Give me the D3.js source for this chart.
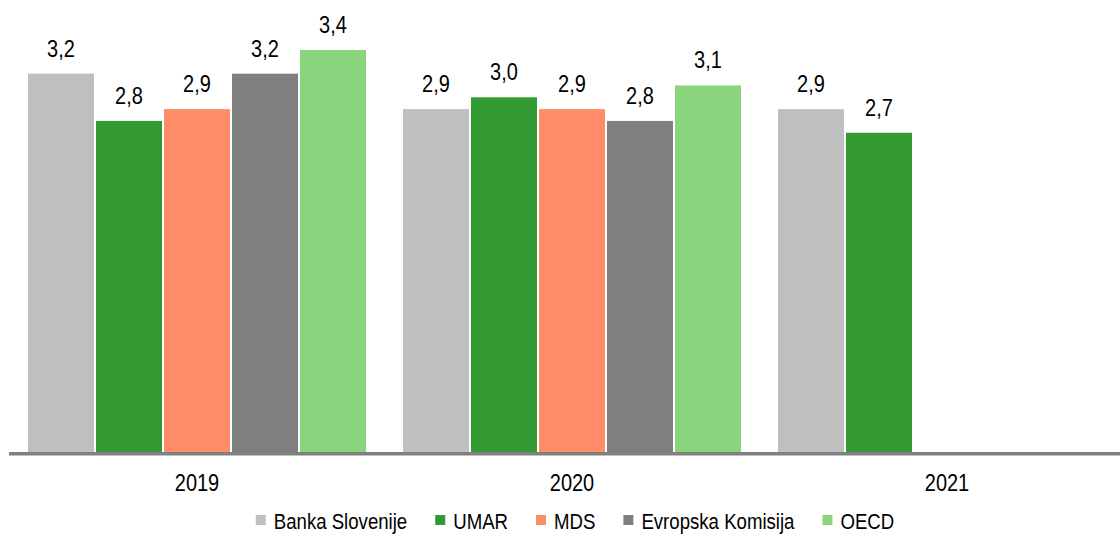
<!DOCTYPE html>
<html>
<head>
<meta charset="utf-8">
<script src="https://cdn.jsdelivr.net/npm/d3@7"></script>
<style>
  html, body { margin: 0; padding: 0; background: #fff; }
  svg { display: block; }
  text { font-family: "Liberation Sans", Arial, sans-serif; fill: #000; }
</style>
</head>
<body>
<script>
const years = ["2019", "2020", "2021"];
const seriesNames = ["Banka Slovenije", "UMAR", "MDS", "Evropska Komisija", "OECD"];
const bankaSlovenije = [3.2, 2.9, 2.9];
const umar = [2.8, 3.0, 2.7];
const mds = [2.9, 2.9, null];
const evropskaKomisija = [3.2, 2.8, null];
const oecd = [3.4, 3.1, null];
const colors = ["#BFBFBF", "#339933", "#FF8C69", "#7F7F7F", "#89D47D"];

const seriesValues = [bankaSlovenije, umar, mds, evropskaKomisija, oecd];

const W = 1120, H = 534;
const svg = d3.select("body").append("svg").attr("width", W).attr("height", H);

const x0 = d3.scaleBand().domain(years).range([9.5, 1134.5]).padding(0);
const x1 = d3.scaleBand().domain(seriesNames).range([18.5, 356.5]).paddingInner(2 / 68).paddingOuter(0);
const y = d3.scaleLinear().domain([0, 3.4]).range([452, 50]);

const fmt = v => d3.format(".1f")(v).replace(".", ",");
const SX = 0.833;
const LSX = 0.81;

const data = [];
years.forEach((yr, i) => {
  seriesNames.forEach((s, j) => {
    const v = seriesValues[j][i];
    if (v != null) data.push({ yr, s, v, color: colors[j] });
  });
});

const g = svg.append("g");
g.selectAll("rect.bar").data(data).enter().append("rect")
  .attr("class", "bar")
  .attr("x", d => x0(d.yr) + x1(d.s))
  .attr("y", d => y(d.v))
  .attr("width", x1.bandwidth())
  .attr("height", d => y(0) - y(d.v))
  .attr("fill", d => d.color);

g.selectAll("g.lbl").data(data).enter().append("g")
  .attr("class", "lbl")
  .attr("transform", d => `translate(${x0(d.yr) + x1(d.s) + x1.bandwidth() / 2},${y(d.v) - 17}) scale(${SX},1)`)
  .append("text")
  .attr("text-anchor", "middle")
  .attr("font-size", 24)
  .text(d => fmt(d.v));

// axis line
svg.append("line")
  .attr("x1", 9).attr("x2", W)
  .attr("y1", 453.7).attr("y2", 453.7)
  .attr("stroke", "#808080").attr("stroke-width", 3.4);

// year labels
svg.selectAll("g.yr").data(years).enter().append("g")
  .attr("class", "yr")
  .attr("transform", d => `translate(${x0(d) + x0.bandwidth() / 2},491) scale(${SX},1)`)
  .append("text")
  .attr("text-anchor", "middle")
  .attr("font-size", 24)
  .text(d => d);

// legend
const leg = svg.append("g");
let cx = 0;
seriesNames.forEach((s, j) => {
  const it = leg.append("g").attr("transform", `translate(${cx},0)`);
  it.append("rect").attr("x", 0).attr("y", 515).attr("width", 10).attr("height", 10).attr("fill", colors[j]);
  const tg = it.append("g").attr("transform", `translate(18,528.5) scale(${LSX},1)`);
  const t = tg.append("text").attr("font-size", 23).text(s);
  const tw = t.node().getComputedTextLength() * LSX;
  cx += 18 + tw + 28;
});
const total = cx - 28;
leg.attr("transform", `translate(${575 - total / 2},0)`);
</script>
</body>
</html>
